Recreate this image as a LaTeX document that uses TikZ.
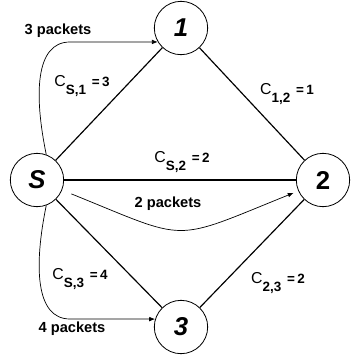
\documentclass[tikz,border=0pt]{standalone}
\usepackage{fontspec}
\setmainfont{Liberation Sans}
\usepackage{tikz}
\usetikzlibrary{arrows.meta}

\newcommand{\custo}[2]{C\raisebox{-6.5pt}{\fontsize{11.5}{12}\selectfont\bfseries #1}\hspace{5pt}\raisebox{0.5pt}{\fontsize{11.5}{12}\selectfont\bfseries =\,#2}}

\begin{document}
\begin{tikzpicture}[
    x=0.03cm,
    y=-0.03cm,
    >={Latex[length=5pt,width=4pt]},
    vertice/.style={
        circle,
        draw,
        line width=0.7pt,
        minimum size=1.6cm,
        inner sep=0pt,
        font=\fontsize{22}{22}\selectfont\bfseries\itshape
    },
    aresta/.style={line width=1pt},
    seta/.style={->, line width=0.6pt},
    rotulo/.style={inner sep=0pt, font=\fontsize{13.5}{14}\selectfont},
    pacotes/.style={inner sep=0pt, font=\fontsize{12.5}{13}\selectfont\bfseries}
]

\useasboundingbox (0,0) rectangle (352,358);

\node[vertice] (S) at (37,180) {S};
\node[vertice] (n1) at (181,28) {1};
\node[vertice] (n2) at (323,180) {\upshape 2};
\node[vertice] (n3) at (181,327) {3};

\draw[aresta] (S) -- (n1);
\draw[aresta] (S) -- (n2);
\draw[aresta] (S) -- (n3);
\draw[aresta] (n1) -- (n2);
\draw[aresta] (n2) -- (n3);

\node[rotulo] (cS1) at (82,86) {\custo{S,1}{3}};
\node[rotulo] (c12) at (287,94) {\custo{1,2}{1}};
\node[rotulo] (cS2) at (182,162) {\custo{S,2}{2}};
\node[rotulo] (cS3) at (80,279) {\custo{S,3}{4}};
\node[rotulo] (c23) at (278,283) {\custo{2,3}{2}};

\draw[seta] (S.70) .. controls (34,95) and (35,42) .. (70,42) -- (n1.211);
\draw[seta, shorten <=3mm, shorten >=1.5mm] (S.-22) to[out=-22, in=202, looseness=1.5] (n2.204);
\draw[seta] (S.-70) .. controls (34,265) and (35,319) .. (70,319) -- (n3.163);

\node[pacotes] (p1) at (58,31) {3 packets};
\node[pacotes] (p2) at (168,204) {2 packets};
\node[pacotes] (p3) at (72,329) {4 packets};

\end{tikzpicture}
\end{document}
